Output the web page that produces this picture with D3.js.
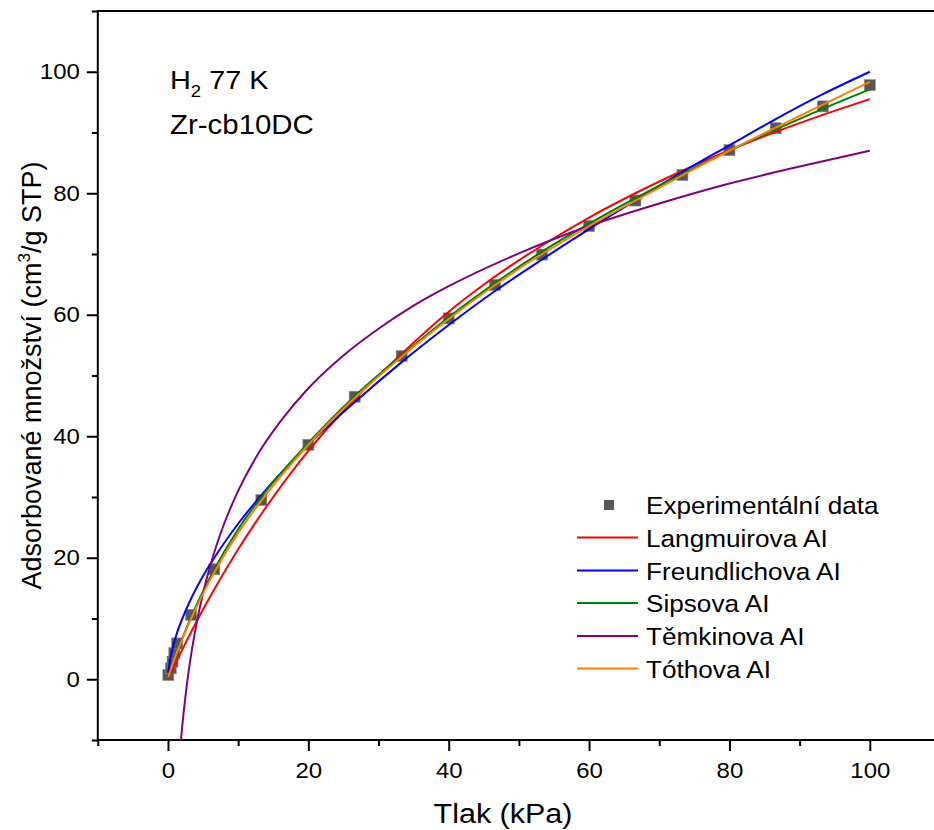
<!DOCTYPE html>
<html>
<head>
<meta charset="utf-8">
<script src="https://cdn.jsdelivr.net/npm/d3@7"></script>
<style>
  html, body { margin: 0; padding: 0; background: #fff; }
  svg { display: block; font-family: "Liberation Sans", Arial, sans-serif; }
</style>
</head>
<body>
<svg id="chart" width="934" height="830"></svg>
<script>
// Experimental H2 isotherm at 77 K (pressure in kPa, uptake in cm3/g STP)
const pressure = [0.05, 0.4, 0.65, 0.9, 1.3, 3.3, 6.6, 13.3, 20.0, 26.6, 33.3, 40.0, 46.6, 53.3, 60.0, 66.6, 73.3, 80.0, 86.6, 93.3, 100.0];
const uptake   = [0.7, 1.8, 2.9, 4.3, 5.9, 10.6, 18.1, 29.5, 38.6, 46.5, 53.2, 59.4, 64.9, 69.9, 74.6, 78.8, 83.0, 87.1, 90.7, 94.3, 97.8];

// Fitted isotherm curves, sampled along pressure
const fitP = [0.05, 0.3, 0.6, 1, 1.3, 2, 3.3, 5, 6.6, 10, 13.3, 20, 26.6, 33.3, 40, 46.6, 53.3, 60, 66.6, 73.3, 80, 86.6, 93.3, 100];
const langmuir   = [0.12, 0.73, 1.47, 2.44, 3.15, 4.80, 7.77, 11.48, 14.8, 21.4, 27.2, 37.6, 46.1, 53.6, 60.5, 66.3, 71.4, 76.0, 80.0, 83.7, 87.1, 90.1, 92.9, 95.5];
const freundlich = [1.1, 3.2, 4.8, 6.54, 7.7, 9.86, 13.3, 17.0, 20.0, 25.6, 30.3, 38.6, 45.6, 52.2, 58.3, 63.9, 69.1, 74.1, 78.8, 83.5, 87.9, 92.2, 96.3, 100.0];
const sips       = [0.3, 1.04, 2.18, 3.54, 4.5, 6.6, 10.25, 14.5, 18.1, 24.7, 30.0, 38.9, 46.6, 53.3, 59.6, 65.2, 70.4, 75.0, 79.2, 83.2, 87.0, 90.5, 93.9, 97.1];
const toth       = [0.3, 1.25, 2.3, 3.6, 4.5, 6.5, 10.0, 14.1, 17.6, 24.1, 29.4, 38.6, 46.3, 53.1, 59.3, 64.9, 70.0, 74.6, 78.8, 82.95, 87.0, 90.8, 94.6, 98.35];
const temkinP    = [1.5, 1.7, 1.85, 2, 2.5, 3, 4, 5, 6, 8, 10, 13, 16, 20, 25, 30, 35, 40, 50, 60, 70, 80, 90, 100];
const temkin     = [-15.1, -12.0, -10.0, -8.1, -2.7, 1.76, 8.75, 14.2, 18.6, 25.6, 31.0, 37.4, 42.4, 47.9, 53.3, 57.7, 61.5, 64.7, 70.1, 74.6, 78.3, 81.6, 84.4, 87.0];

const xMajor = [0, 20, 40, 60, 80, 100];
const xMinor = [-10, 10, 30, 50, 70, 90, 110];
const yMajor = [0, 20, 40, 60, 80, 100];
const yMinor = [-10, 10, 30, 50, 70, 90, 110];

const seriesNames = ["Langmuirova AI", "Freundlichova AI", "Sipsova AI", "Těmkinova AI", "Tóthova AI"];
const seriesColors = ["#ff0000", "#0000ff", "#008000", "#800080", "#ff8000"];

const svg = d3.select("#chart");
const x = d3.scaleLinear().domain([-10, 110]).range([97.8, 940]);
const y = d3.scaleLinear().domain([-10, 110]).range([740, 11]);
const WIDE = 1.09; // horizontal text stretch

svg.append("defs").append("clipPath").attr("id", "plotclip")
  .append("rect").attr("x", x(-10)).attr("y", y(110)).attr("width", x(110) - x(-10)).attr("height", y(-10) - y(110));

// frame
svg.append("rect")
  .attr("x", x(-10)).attr("y", y(110))
  .attr("width", x(110) - x(-10)).attr("height", y(-10) - y(110))
  .attr("fill", "none").attr("stroke", "#000").attr("stroke-width", 2);

// axes
const xAxis = svg.append("g").attr("transform", `translate(0,${y(-10)})`)
  .call(d3.axisBottom(x).tickValues(xMajor).tickSize(11).tickPadding(11).tickFormat(d3.format("d")));
svg.append("g").attr("transform", `translate(0,${y(-10)})`)
  .call(d3.axisBottom(x).tickValues(xMinor).tickSize(6).tickFormat(""));
const yAxis = svg.append("g").attr("transform", `translate(${x(-10)},0)`)
  .call(d3.axisLeft(y).tickValues(yMajor).tickSize(11).tickPadding(7).tickFormat(d3.format("d")));
svg.append("g").attr("transform", `translate(${x(-10)},0)`)
  .call(d3.axisLeft(y).tickValues(yMinor).tickSize(6).tickFormat(""));

svg.selectAll(".domain").remove();
svg.selectAll(".tick line").attr("stroke", "#000").attr("stroke-width", 2);
svg.selectAll(".tick text").attr("font-size", 22).attr("fill", "#000")
  .attr("font-family", "Liberation Sans, Arial, sans-serif");
xAxis.selectAll(".tick text").attr("transform", `scale(${WIDE},1)`);
yAxis.selectAll(".tick text").attr("x", -18 / WIDE).attr("transform", `scale(${WIDE},1)`);

// helper for stretched text
function label(parent, tx, ty, anchor, size) {
  return parent.append("text")
    .attr("transform", `translate(${tx},${ty}) scale(${WIDE},1)`)
    .attr("text-anchor", anchor).attr("font-size", size).attr("fill", "#000");
}

// axis titles
label(svg, 503, 823, "middle", 28).text("Tlak (kPa)");
const yt = svg.append("text")
  .attr("transform", `translate(41,${(11 + 740) / 2}) rotate(-90)`)
  .attr("text-anchor", "middle").attr("font-size", 27).attr("fill", "#000");
yt.append("tspan").text("Adsorbované množství (cm");
yt.append("tspan").attr("font-size", 17).attr("dy", -11).text("3");
yt.append("tspan").attr("dy", 11).text("/g STP)");

// annotation
const h2 = label(svg, 170, 89, "start", 26.5);
h2.append("tspan").text("H");
h2.append("tspan").attr("font-size", 17).attr("dy", 8).text("2");
h2.append("tspan").attr("dy", -8).text(" 77 K");
label(svg, 170, 134, "start", 27).text("Zr-cb10DC");

// data + curves
const plot = svg.append("g").attr("clip-path", "url(#plotclip)");
plot.selectAll("rect.pt").data(pressure.map((p, i) => [p, uptake[i]]))
  .join("rect").attr("class", "pt")
  .attr("x", d => x(d[0]) - 5.5).attr("y", d => y(d[1]) - 5.5)
  .attr("width", 11).attr("height", 11)
  .attr("fill", "#575757").attr("stroke", "#8a8a8a").attr("stroke-width", 0.6);

const curves = [
  [fitP, langmuir], [fitP, freundlich], [fitP, sips], [temkinP, temkin], [fitP, toth]
];
const line = d3.line().x(d => x(d[0])).y(d => y(d[1])).curve(d3.curveMonotoneX);
curves.forEach((c, i) => {
  const pts = c[0].map((p, j) => [p, c[1][j]]);
  plot.append("path").datum(pts).attr("d", line)
    .attr("fill", "none").attr("stroke", seriesColors[i]).attr("stroke-width", 2);
});

// legend
const lg = svg.append("g");
const rowY = [505, 537.5, 570.5, 603, 636, 668.5];
lg.append("rect").attr("x", 604).attr("y", rowY[0] - 5).attr("width", 10).attr("height", 10).attr("fill", "#575757");
label(lg, 646, rowY[0] + 9, "start", 24).text("Experimentální data");
seriesNames.forEach((n, i) => {
  const ry = rowY[i + 1];
  lg.append("line").attr("x1", 577).attr("x2", 638).attr("y1", ry).attr("y2", ry)
    .attr("stroke", seriesColors[i]).attr("stroke-width", 2);
  label(lg, 646, ry + 9, "start", 24).text(n);
});
</script>
</body>
</html>
